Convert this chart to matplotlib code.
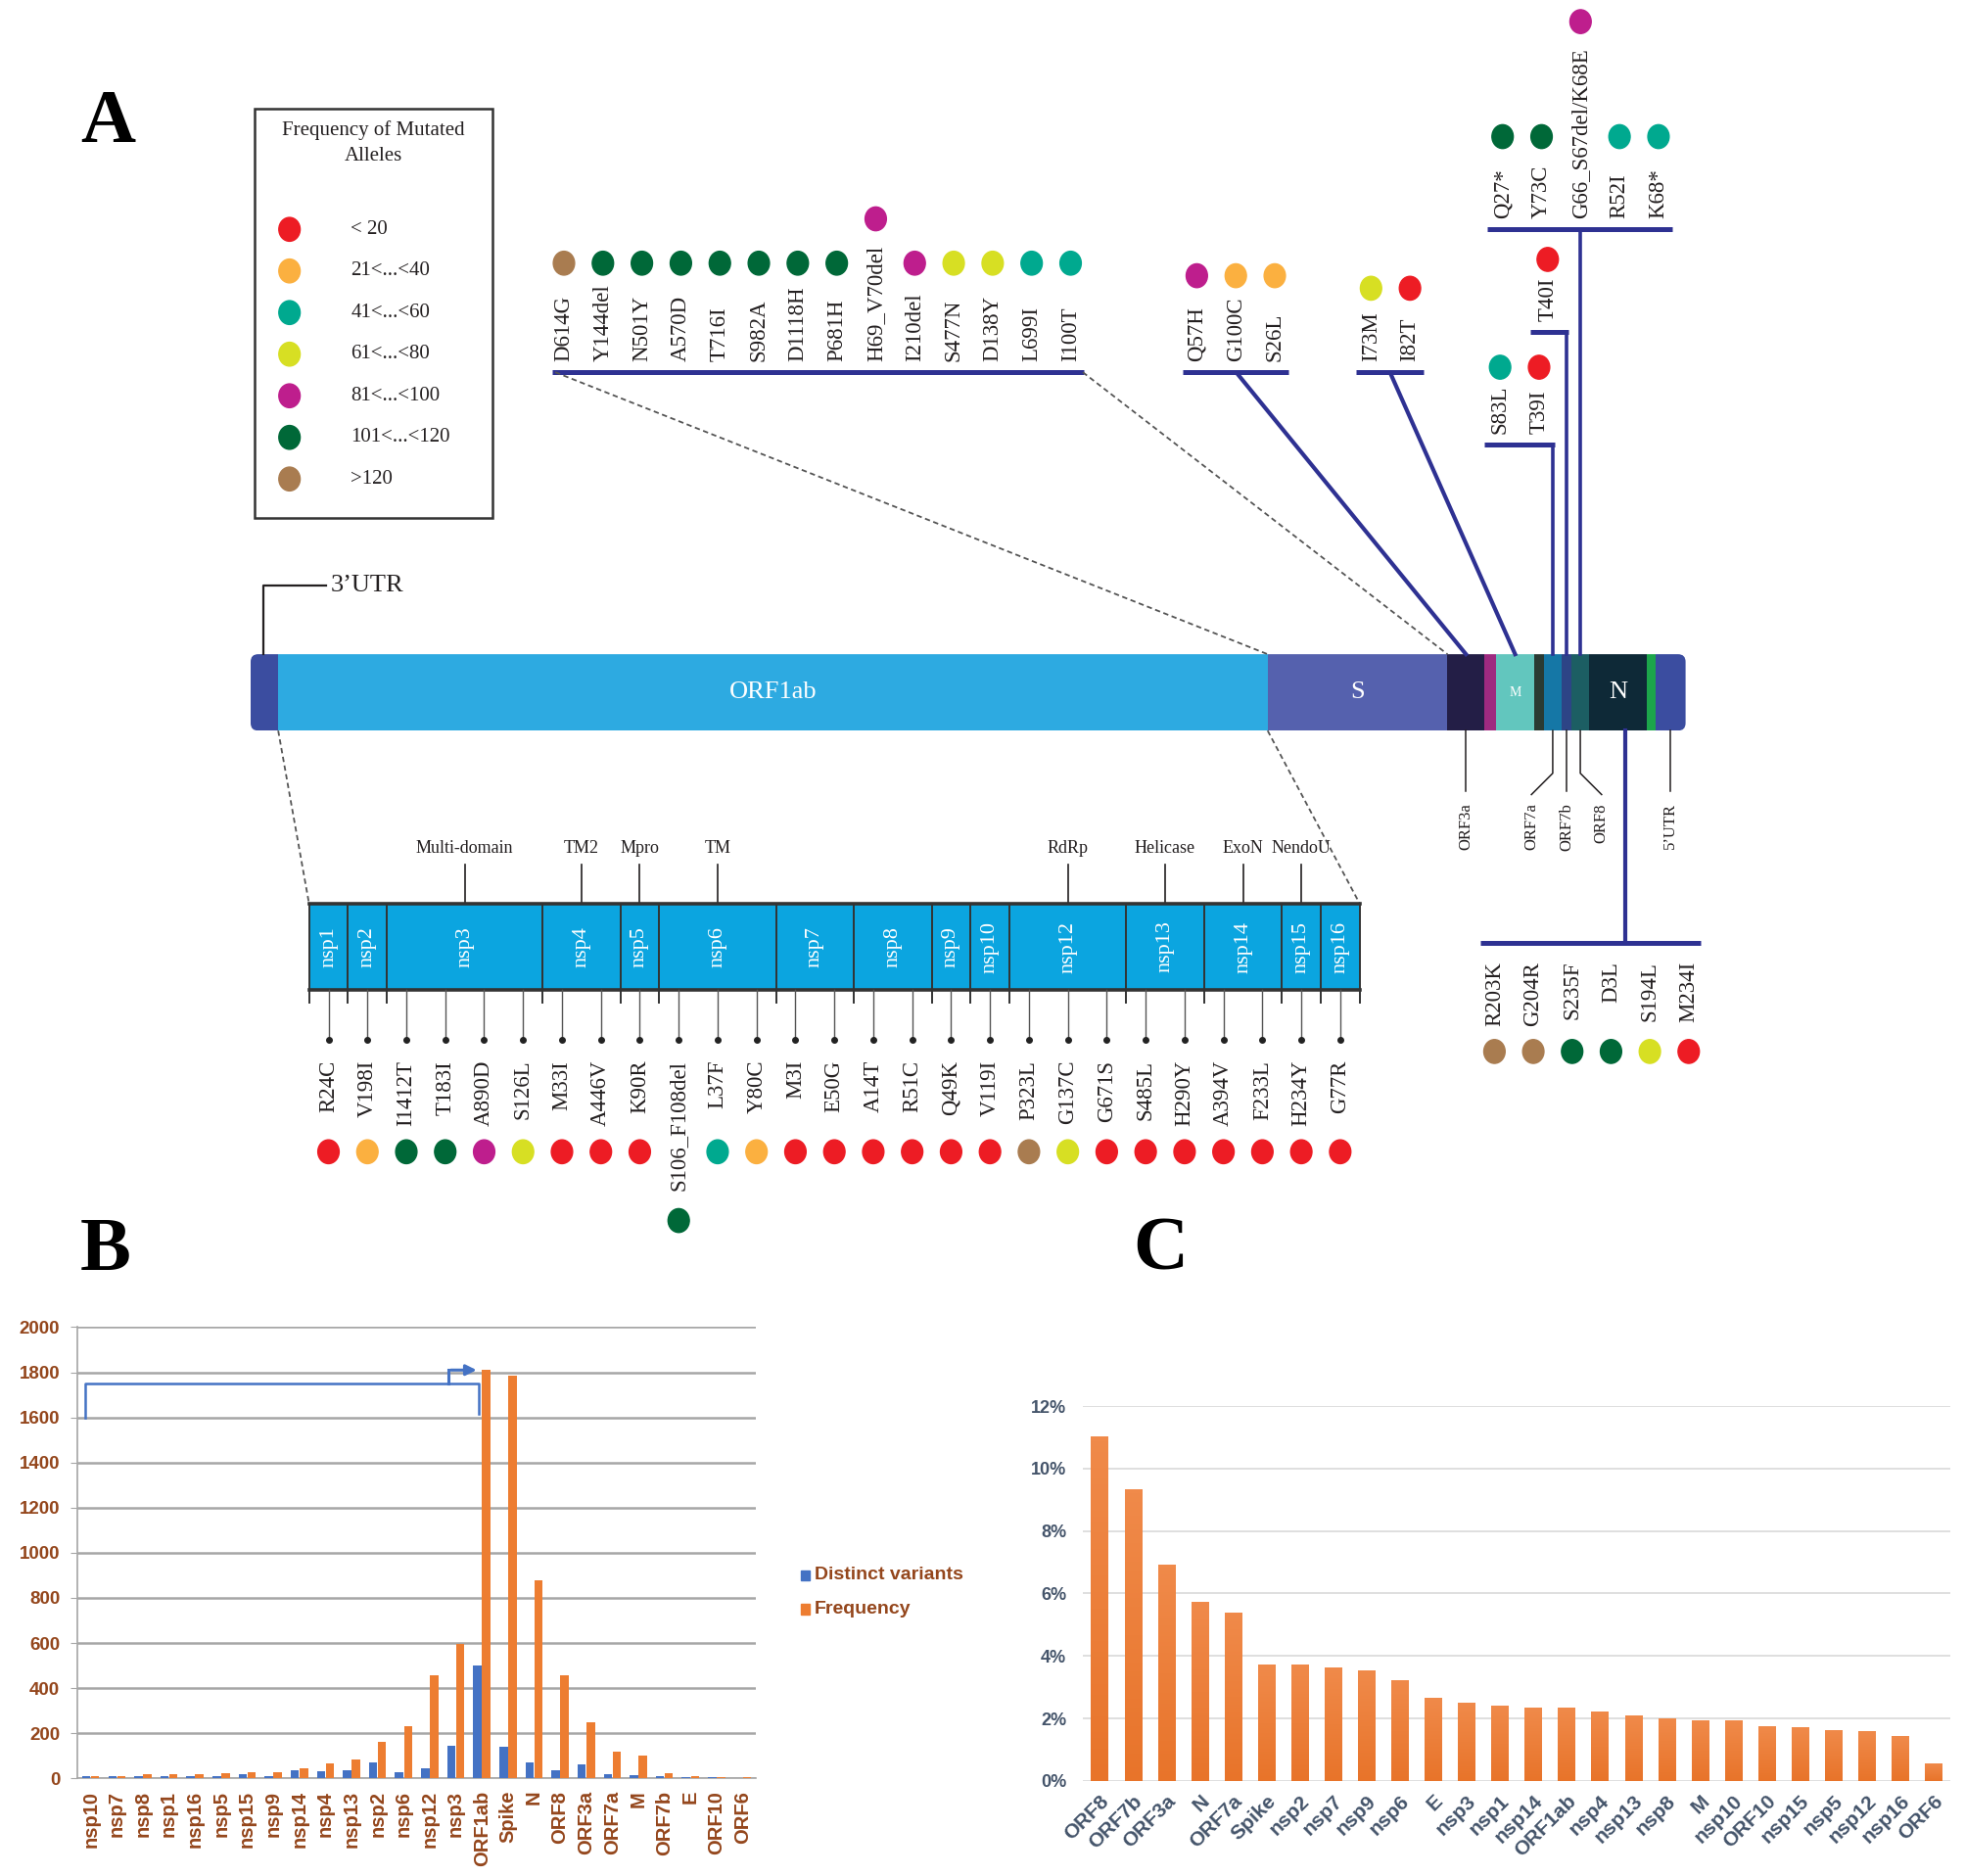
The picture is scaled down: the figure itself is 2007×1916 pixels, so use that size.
import matplotlib
matplotlib.use("Agg")
import matplotlib.pyplot as plt
import numpy as np
from matplotlib.patches import Rectangle, Ellipse, FancyBboxPatch
from matplotlib.colors import LinearSegmentedColormap

# drawing units for panel A (1 unit = 1.28 px of the output image)
W, H = 1568.75, 1496.9
SERIF = ["Liberation Serif", "DejaVu Serif"]
SANS = ["Liberation Sans", "DejaVu Sans"]
BLUE = "#2E3192"
INK = "#231F20"

# ---- data -------------------------------------------------------------
freq_classes = ["< 20", "21<...<40", "41<...<60", "61<...<80",
                "81<...<100", "101<...<120", ">120"]
class_colors = ["#ED1C24", "#FBB040", "#00A98F", "#D7DF23",
                "#BE1E8D", "#006838", "#A97C50"]

genome_names = ["UTR_L", "ORF1ab", "S", "ORF3a", "E", "M", "ORF6", "ORF7a",
                "ORF7b", "ORF8", "N", "ORF10", "UTR_R"]
genome_widths = [22, 789.5, 143.5, 29.5, 9.5, 30, 8, 14, 8, 14, 46, 7, 24]
genome_colors = ["#3B4DA0", "#2DAAE1", "#5561AE", "#231E46", "#9E2A80",
                 "#62C6BE", "#2A3A33", "#1577A6", "#2D4486", "#1C5E63",
                 "#0E2937", "#1CA64B", "#3B4DA0"]

spike_muts = ["D614G", "Y144del", "N501Y", "A570D", "T716I", "S982A", "D1118H",
              "P681H", "H69_V70del", "I210del", "S477N", "D138Y", "L699I", "I100T"]
spike_cls = [6, 5, 5, 5, 5, 5, 5, 5, 4, 4, 3, 3, 2, 2]
orf3a_muts = ["Q57H", "G100C", "S26L"]
orf3a_cls = [4, 1, 1]
m_muts = ["I73M", "I82T"]
m_cls = [3, 0]
orf7a_muts = ["S83L", "T39I"]
orf7a_cls = [2, 0]
orf7b_muts = ["T40I"]
orf7b_cls = [0]
orf8_muts = ["Q27*", "Y73C", "G66_S67del/K68E", "R52I", "K68*"]
orf8_cls = [5, 5, 4, 2, 2]
n_muts = ["R203K", "G204R", "S235F", "D3L", "S194L", "M234I"]
n_cls = [6, 6, 5, 5, 3, 0]

nsp_names = ["nsp1", "nsp2", "nsp3", "nsp4", "nsp5", "nsp6", "nsp7", "nsp8",
             "nsp9", "nsp10", "nsp12", "nsp13", "nsp14", "nsp15", "nsp16"]
nsp_mut_counts = [1, 1, 4, 2, 1, 3, 2, 2, 1, 1, 3, 2, 2, 1, 1]
nsp_funcs = {"nsp3": "Multi-domain", "nsp4": "TM2", "nsp5": "Mpro", "nsp6": "TM",
             "nsp12": "RdRp", "nsp13": "Helicase", "nsp14": "ExoN", "nsp15": "NendoU"}
nsp_muts = ["R24C", "V198I", "I1412T", "T183I", "A890D", "S126L", "M33I", "A446V",
            "K90R", "S106_F108del", "L37F", "Y80C", "M3I", "E50G", "A14T", "R51C",
            "Q49K", "V119I", "P323L", "G137C", "G671S", "S485L", "H290Y", "A394V",
            "F233L", "H234Y", "G77R"]
nsp_cls = [0, 1, 5, 5, 4, 3, 0, 0, 0, 5, 2, 1, 0, 0, 0, 0, 0, 0, 6, 3, 0,
           0, 0, 0, 0, 0, 0]

b_cats = ["nsp10", "nsp7", "nsp8", "nsp1", "nsp16", "nsp5", "nsp15", "nsp9", "nsp14",
          "nsp4", "nsp13", "nsp2", "nsp6", "nsp12", "nsp3", "ORF1ab", "Spike", "N",
          "ORF8", "ORF3a", "ORF7a", "M", "ORF7b", "E", "ORF10", "ORF6"]
b_distinct = [8, 8, 10, 10, 10, 12, 20, 12, 38, 32, 38, 72, 28, 45, 145, 500, 142,
              72, 36, 60, 18, 14, 12, 6, 4, 2]
b_freq = [12, 12, 20, 20, 20, 22, 27, 28, 45, 65, 85, 160, 230, 455, 595, 1810,
          1785, 880, 455, 248, 120, 100, 22, 8, 6, 5]

c_cats = ["ORF8", "ORF7b", "ORF3a", "N", "ORF7a", "Spike", "nsp2", "nsp7", "nsp9",
          "nsp6", "E", "nsp3", "nsp1", "nsp14", "ORF1ab", "nsp4", "nsp13", "nsp8",
          "M", "nsp10", "ORF10", "nsp15", "nsp5", "nsp12", "nsp16", "ORF6"]
c_pct = [11.04, 9.35, 6.92, 5.72, 5.38, 3.73, 3.72, 3.63, 3.53, 3.22, 2.67, 2.49,
         2.40, 2.34, 2.34, 2.22, 2.09, 2.01, 1.94, 1.93, 1.76, 1.72, 1.64, 1.58,
         1.44, 0.55]

# ---- figure -----------------------------------------------------------
fig = plt.figure(figsize=(20.08, 19.16), dpi=100)
ax = fig.add_axes([0, 0, 1, 1])
ax.set_xlim(0, W)
ax.set_ylim(H, 0)
ax.axis("off")

for lab, x, y in [("A", 86, 113), ("B", 84, 1013), ("C", 926, 1013)]:
    ax.text(x, y, lab, fontsize=56, fontweight="bold", family=SERIF,
            ha="center", va="baseline")

# legend box
ax.add_patch(Rectangle((203, 87), 190, 326, fill=False, ec="#333333", lw=1.8))
ax.text(298, 104, "Frequency of Mutated", fontsize=15, family=SERIF,
        ha="center", va="center", color=INK)
ax.text(298, 125, "Alleles", fontsize=15, family=SERIF, ha="center",
        va="center", color=INK)
for i, (lab, col) in enumerate(zip(freq_classes, class_colors)):
    y = 183 + 33.2 * i
    ax.add_patch(Ellipse((231, y), 17, 19, color=col))
    ax.text(280, y, lab, fontsize=15, family=SERIF, va="center", color=INK)

# genome bar
bar_top, bar_h, g_x0 = 522, 61, 200
edges = g_x0 + np.concatenate([[0], np.cumsum(genome_widths)])
seg_center = {n: (a + b) / 2 for n, a, b in zip(genome_names, edges[:-1], edges[1:])}
seg_edges = {n: (a, b) for n, a, b in zip(genome_names, edges[:-1], edges[1:])}
clip = FancyBboxPatch((edges[0], bar_top), edges[-1] - edges[0], bar_h,
                      boxstyle="round,pad=0,rounding_size=6", fc="none", ec="none")
ax.add_patch(clip)
for a, b, col in zip(edges[:-1], edges[1:], genome_colors):
    r = Rectangle((a, bar_top), b - a, bar_h, fc=col, ec="none")
    ax.add_patch(r)
    r.set_clip_path(clip)
mid = bar_top + bar_h / 2
for name, fs in [("ORF1ab", 19), ("S", 19), ("M", 10), ("N", 19)]:
    ax.text(seg_center[name], mid, name, color="white", fontsize=fs,
            family=SERIF, ha="center", va="center")

# 3'UTR callout on the left end
ax.plot([210, 210, 260], [bar_top, 467, 467], color=INK, lw=1.6)
ax.text(264, 467, "3\u2019UTR", fontsize=19, family=SERIF, va="center", color=INK)

# labels under the right part of the genome
bar_bot = bar_top + bar_h
under = [("ORF3a", seg_center["ORF3a"], seg_center["ORF3a"]),
         ("ORF7a", seg_center["ORF7a"], seg_center["ORF7a"] - 17),
         ("ORF7b", seg_center["ORF7b"], seg_center["ORF7b"]),
         ("ORF8", seg_center["ORF8"], seg_center["ORF8"] + 17),
         ("5\u2019UTR", seg_center["UTR_R"], seg_center["UTR_R"])]
for lab, xs, xe in under:
    if xs == xe:
        ax.plot([xs, xs], [bar_bot, 631], color=INK, lw=1.1)
    else:
        ax.plot([xs, xs, xe], [bar_bot, 617, 634], color=INK, lw=1.1)
    ax.text(xe, 641, lab, rotation=90, fontsize=12, family=SERIF,
            ha="center", va="top", color=INK)

dot_jobs = []  # (text, x, class, default_y, side)


def top_group(labels, classes, x0, bar_y, bar_x, dot_y, step=31.1):
    ax.plot(bar_x, [bar_y, bar_y], color=BLUE, lw=3.6, solid_capstyle="butt")
    for i, (lab, c) in enumerate(zip(labels, classes)):
        x = x0 + step * i
        t = ax.text(x, bar_y - 9, lab, rotation=90, fontsize=16.5, family=SERIF,
                    ha="center", va="bottom", color=INK)
        dot_jobs.append((t, x, c, dot_y, "top"))


top_group(spike_muts, spike_cls, 450, 297, [441, 865], 210)
top_group(orf3a_muts, orf3a_cls, 955, 297, [944, 1028], 220)
top_group(m_muts, m_cls, 1094, 297, [1082, 1136], 230)
top_group(orf7a_muts, orf7a_cls, 1197, 355, [1184, seg_center["ORF7a"] + 1.5], 293)
top_group(orf7b_muts, orf7b_cls, 1235, 265, [1221, seg_center["ORF7b"] + 1.5], 207)
top_group(orf8_muts, orf8_cls, 1199, 183, [1187, 1334], 109)

# connectors to the genome
dash = dict(color="#555555", lw=1.3, ls=(0, (3, 2)))
ax.plot([443, seg_edges["S"][0]], [297, bar_top], **dash)
ax.plot([864, seg_edges["S"][1]], [297, bar_top], **dash)
ax.plot([988, seg_center["ORF3a"]], [299, bar_top], color=BLUE, lw=3)
ax.plot([1110, seg_center["M"]], [299, bar_top], color=BLUE, lw=3)
ax.plot([seg_center["ORF7a"]] * 2, [355, bar_top], color=BLUE, lw=2.6)
ax.plot([seg_center["ORF7b"]] * 2, [265, bar_top], color=BLUE, lw=2.6)
ax.plot([seg_center["ORF8"]] * 2, [183, bar_top], color=BLUE, lw=2.6)

# N group below the genome
n_x = seg_center["N"] + 6
ax.plot([n_x, n_x], [bar_bot, 752], color=BLUE, lw=3)
ax.plot([1181, 1357], [752, 752], color=BLUE, lw=3.6, solid_capstyle="butt")
for i, (lab, c) in enumerate(zip(n_muts, n_cls)):
    x = 1192.5 + 31 * i
    t = ax.text(x, 767, lab, rotation=90, fontsize=16.5, family=SERIF,
                ha="center", va="top", color=INK)
    dot_jobs.append((t, x, c, 839, "bottom"))

# ORF1ab zoom: nsp boxes
slot, box_x0, box_top, box_bot = 31.05, 246.6, 721, 790
ax.plot([edges[1], box_x0], [bar_bot, box_top], **dash)
ax.plot([seg_edges["ORF1ab"][1], box_x0 + slot * sum(nsp_mut_counts)],
        [bar_bot, box_top], **dash)
x = box_x0
for name, n in zip(nsp_names, nsp_mut_counts):
    w = n * slot
    ax.add_patch(Rectangle((x, box_top), w, box_bot - box_top, fc="#0BA5E0", ec="none"))
    ax.text(x + w / 2, (box_top + box_bot) / 2, name, rotation=90, color="white",
            fontsize=16, family=SERIF, ha="center", va="center")
    if name in nsp_funcs:
        ax.plot([x + w / 2] * 2, [690, box_top], color=INK, lw=1.2)
        ax.text(x + w / 2, 677, nsp_funcs[name], fontsize=13, family=SERIF,
                ha="center", va="center", color=INK)
    ax.plot([x, x], [box_top, 800], color="#333333", lw=1.4)
    x += w
ax.plot([x, x], [box_top, 800], color="#333333", lw=1.4)
ax.plot([box_x0, x], [box_top, box_top], color="#333333", lw=2.6)
ax.plot([box_x0, x], [box_bot, box_bot], color="#333333", lw=2.6)

for i, (lab, c) in enumerate(zip(nsp_muts, nsp_cls)):
    mx = box_x0 + slot * (i + 0.5)
    ax.plot([mx, mx], [box_bot, 830], color="#555555", lw=1)
    ax.plot(mx, 830, "o", ms=4, color="#222222")
    t = ax.text(mx, 846, lab, rotation=90, fontsize=16.5, family=SERIF,
                ha="center", va="top", color=INK)
    dot_jobs.append((t, mx, c, 919, "bottom"))

# place the dots after measuring the rotated labels (long labels push the dot out)
fig.canvas.draw()
renderer = fig.canvas.get_renderer()
inv = ax.transData.inverted()
for t, x, c, y0, side in dot_jobs:
    y = y0
    if len(t.get_text()) > 8:
        bb = t.get_window_extent(renderer)
        ys = inv.transform([[bb.x0, bb.y0], [bb.x1, bb.y1]])[:, 1]
        y = ys.min() - 21 if side == "top" else ys.max() + 24
    ax.add_patch(Ellipse((x, y), 17, 19, color=class_colors[c]))

# ---- panel B ----------------------------------------------------------
BROWN = "#94461C"
axB = fig.add_axes([62 / W, 1 - 1419 / H, (603 - 62) / W, (1419 - 1059) / H])
axB.set_facecolor("none")
xb = np.arange(len(b_cats))
axB.bar(xb - 0.17, b_distinct, 0.32, color="#4472C4", zorder=3)
axB.bar(xb + 0.17, b_freq, 0.32, color="#ED7D31", zorder=3)
axB.set_xlim(-0.5, len(b_cats) - 0.5)
axB.set_ylim(0, 2000)
axB.set_yticks(range(0, 2001, 200))
axB.yaxis.grid(True, color="#A6A6A6", lw=1.8)
axB.set_axisbelow(True)
axB.set_xticks(xb)
axB.set_xticklabels(b_cats, rotation=90, fontsize=14.5, fontweight="bold",
                    family=SANS, color=BROWN)
for lab in axB.get_yticklabels():
    lab.set_fontsize(13.5)
    lab.set_fontweight("bold")
    lab.set_family(SANS)
    lab.set_color(BROWN)
axB.tick_params(axis="x", length=0, pad=9)
axB.tick_params(axis="y", length=5, color="#A6A6A6", pad=8)
for s in ["top", "right"]:
    axB.spines[s].set_visible(False)
for s in ["left", "bottom"]:
    axB.spines[s].set_color("#A6A6A6")
    axB.spines[s].set_linewidth(1.2)

i1 = b_cats.index("ORF1ab")
bl = "#4472C4"
axB.plot([-0.2, -0.2, i1 - 0.12, i1 - 0.12], [1600, 1750, 1750, 1615], color=bl, lw=1.8)
axB.plot([i1 - 1.27, i1 - 1.27], [1750, b_freq[i1]], color=bl, lw=2.2)
axB.annotate("", xy=(i1 - 0.1, b_freq[i1]), xytext=(i1 - 1.29, b_freq[i1]),
             arrowprops=dict(arrowstyle="-|>", color=bl, lw=2.2, mutation_scale=16))

for lab, col, y in [("Distinct variants", "#4472C4", 1257), ("Frequency", "#ED7D31", 1284)]:
    ax.add_patch(Rectangle((639, y - 4), 7, 8, color=col))
    ax.text(650, y, lab, fontsize=14, fontweight="bold", family=SANS,
            color=BROWN, va="center")

# ---- panel C ----------------------------------------------------------
SLATE = "#44546A"
axC = fig.add_axes([864 / W, 1 - 1421 / H, (1556 - 864) / W, (1421 - 1122) / H])
axC.set_facecolor("none")
xc = np.arange(len(c_cats))
bars = axC.bar(xc, c_pct, 0.5, color="#EF8034", zorder=3)
grad = LinearSegmentedColormap.from_list("org", ["#E8742A", "#F08A4A"])
g = np.linspace(0, 1, 64).reshape(-1, 1)
for b in bars:
    x0, h = b.get_x(), b.get_height()
    im = axC.imshow(g, extent=[x0, x0 + b.get_width(), 0, h], origin="lower",
                    aspect="auto", cmap=grad, zorder=4)
    im.set_clip_path(b)
axC.set_xlim(-0.5, len(c_cats) - 0.5)
axC.set_ylim(0, 12)
axC.set_yticks(range(0, 13, 2))
axC.set_yticklabels([f"{v}%" for v in range(0, 13, 2)], fontsize=13,
                    fontweight="bold", family=SANS, color=SLATE)
axC.yaxis.grid(True, color="#D9D9D9", lw=1.2)
axC.set_axisbelow(True)
axC.set_xticks(xc)
axC.set_xticklabels(c_cats, rotation=45, ha="right", va="top",
                    rotation_mode="anchor", fontsize=15, fontweight="bold",
                    family=SANS, color=SLATE)
axC.tick_params(length=0)
axC.tick_params(axis="y", pad=12)
axC.tick_params(axis="x", pad=8)
for s in axC.spines.values():
    s.set_visible(False)

fig.savefig("out.png", dpi=100)
